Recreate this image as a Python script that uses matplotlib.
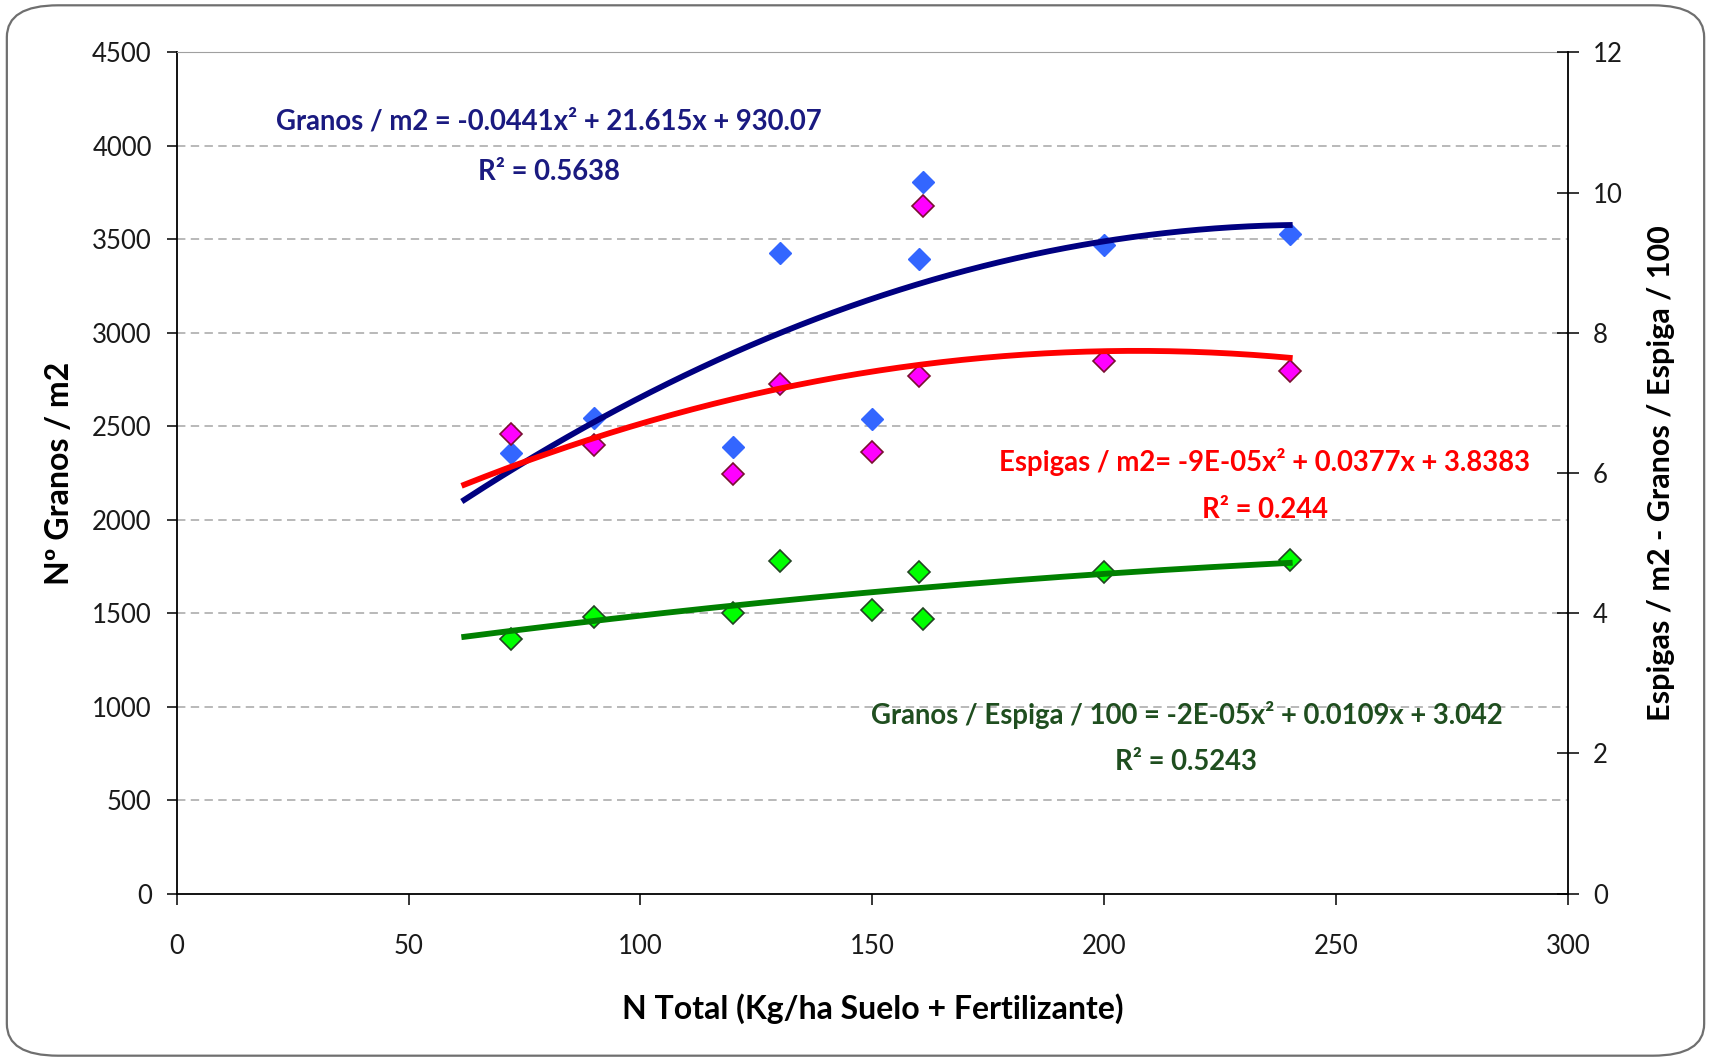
import numpy as np
import matplotlib
matplotlib.use("Agg")
import matplotlib.pyplot as plt
from matplotlib.patches import FancyBboxPatch

plt.rcParams['font.family'] = ['Lato', 'DejaVu Sans']

# N total (kg/ha)
n_total = [72, 90, 120, 130, 150, 160, 161, 200, 240]
# left axis
granos_m2 = [2356, 2543, 2391, 3425, 2541, 3393, 3808, 3470, 3529]
# right axis
espigas_m2 = [6.56, 6.40, 5.98, 7.27, 6.30, 7.39, 9.81, 7.60, 7.46]
granos_espiga = [3.63, 3.95, 4.00, 4.75, 4.04, 4.59, 3.92, 4.59, 4.76]

eq_granos = "Granos / m2 = -0.0441x² + 21.615x + 930.07"
r2_granos = "R² = 0.5638"
eq_espigas = "Espigas / m2= -9E-05x² + 0.0377x + 3.8383"
r2_espigas = "R² = 0.244"
eq_ge = "Granos / Espiga / 100 = -2E-05x² + 0.0109x + 3.042"
r2_ge = "R² = 0.5243"

fig = plt.figure(figsize=(17.11, 10.61), dpi=100)
fig.patches.append(FancyBboxPatch((0.004, 0.005), 0.992, 0.99,
                                  boxstyle="round,pad=0,rounding_size=0.03",
                                  transform=fig.transFigure, facecolor='white',
                                  edgecolor='#6f6f6f', linewidth=1.6, zorder=-1))
ax = fig.add_axes([0.1033, 0.1577, 0.8131, 0.7929])
ax2 = ax.twinx()

# trend lines (quadratic fit, backward forecast 10)
xs = np.linspace(62, 240, 200)
c1 = np.polyfit(n_total, granos_m2, 2)
c2 = np.polyfit(n_total, espigas_m2, 2)
c3 = np.polyfit(n_total, granos_espiga, 2)

ax.plot(n_total, granos_m2, 'D', ms=11.5, color='#3366ff', mec='#3366ff', zorder=3)
ax.plot(xs, np.polyval(c1, xs), color='#000080', lw=4.2, zorder=4)

ax2.plot(n_total, espigas_m2, 'D', ms=11.5, color='#ff00ff', mec='#7a1030', mew=1.2, zorder=3)
ax2.plot(n_total, granos_espiga, 'D', ms=11.5, color='#00ff00', mec='#224422', mew=1.2, zorder=3)
ax2.plot(xs, np.polyval(c2, xs), color='#ff0000', lw=4.2, zorder=4)
ax2.plot(xs, np.polyval(c3, xs), color='#008000', lw=4.2, zorder=4)

ax.set_xlim(0, 300)
ax.set_ylim(0, 4500)
ax2.set_ylim(0, 12)
ax.set_xticks(range(0, 301, 50))
ax.set_yticks(range(0, 4501, 500))
ax2.set_yticks(range(0, 13, 2))

for y in range(500, 4001, 500):
    ax.axhline(y, color='#a6a6a6', lw=1.1, ls=(0, (5.5, 3.5)), zorder=0)

ax.tick_params(axis='y', direction='out', length=7, width=1.1, pad=11,
               labelsize=18.5, labelcolor='#1a1a1a')
ax.tick_params(axis='x', direction='out', length=8, width=1.1, pad=21,
               labelsize=18.5, labelcolor='#1a1a1a')
ax2.tick_params(axis='y', direction='inout', length=16, width=1.1, pad=10,
                labelsize=18.5, labelcolor='#1a1a1a')

ax.spines['top'].set_color('#a0a0a0')
ax.spines['right'].set_visible(False)
for s in ['top', 'left', 'bottom']:
    ax2.spines[s].set_visible(False)
ax2.spines['right'].set_color('black')
ax2.spines['right'].set_linewidth(1.3)
ax.spines['left'].set_linewidth(1.3)
ax.spines['bottom'].set_linewidth(1.3)

ax.set_xlabel("N Total (Kg/ha Suelo + Fertilizante)", fontsize=23, fontweight='bold')
ax.xaxis.set_label_coords(0.5, -0.118)
ax.set_ylabel("Nº Granos / m2", fontsize=23, fontweight='bold')
ax.yaxis.set_label_coords(-0.074, 0.5)
ax2.set_ylabel("Espigas / m2 - Granos / Espiga / 100", fontsize=22, fontweight='bold')
ax2.yaxis.set_label_coords(1.057, 0.5)

tk = dict(ha='center', va='center', fontsize=19.8, fontweight='bold')
ax.text(80.3, 4128, eq_granos, color='#1a1a80', **tk)
ax.text(80.3, 3860, r2_granos, color='#1a1a80', **tk)
ax.text(234.5, 2309, eq_espigas, color='#ff0000', **tk)
ax.text(234.7, 2052, r2_espigas, color='#ff0000', **tk)
ax.text(217.9, 956, eq_ge, color='#1f4e1f', **tk)
ax.text(217.6, 704, r2_ge, color='#1f4e1f', **tk)

fig.savefig("out.png", dpi=100)
